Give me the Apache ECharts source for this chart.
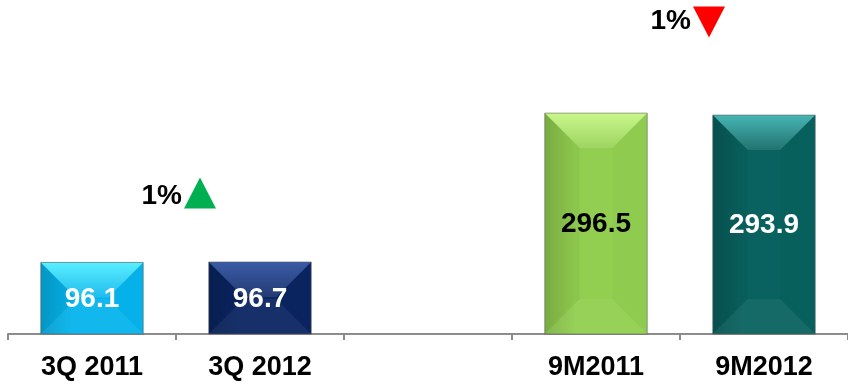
<!DOCTYPE html>
<html>
<head>
<meta charset="utf-8">
<script src="https://cdn.jsdelivr.net/npm/echarts@6/dist/echarts.min.js"></script>
<style>
  html, body { margin: 0; padding: 0; background: #ffffff; }
  #chart { width: 848px; height: 384px; }
</style>
</head>
<body>
<div id="chart"></div>
<script>
// Period labels along the x axis (blank slot separates the quarter and nine-month pairs)
const categories = ['3Q 2011', '3Q 2012', '', '9M2011', '9M2012'];
// Values per period
const values = [96.1, 96.7, null, 296.5, 293.9];
// Year-on-year change for each pair of periods
const changePairs = [[0, 1], [3, 4]];
const changeTexts = ['1%', '1%'];
const changeDirections = ['up', 'down'];

// Per-bar palette: body, top facet, label colour
const barColors = ['#06b4ec', '#0b2562', null, '#92cf50', '#09625f'];
const topColors = ['#5aeeff', '#3a5ba6', null, '#c9f78a', '#46b5b3'];
const labelColors = ['#ffffff', '#ffffff', null, '#000000', '#ffffff'];

const FONT = '"Liberation Sans", Arial, Helvetica, sans-serif';

function shade(hex, amt) {
  const n = parseInt(hex.slice(1), 16);
  const r = (n >> 16) & 255, g = (n >> 8) & 255, b = n & 255;
  const f = c => Math.max(0, Math.min(255, Math.round(amt < 0 ? c * (1 + amt) : c + (255 - c) * amt)));
  return 'rgb(' + f(r) + ',' + f(g) + ',' + f(b) + ')';
}

// Bevelled bar drawn from the data value through the axis scales
function renderBar(params, api) {
  const idx = api.value(0);
  const v = api.value(1);
  if (v == null || isNaN(v)) return null;
  const top = api.coord([idx, v]);
  const base = api.coord([idx, 0]);
  const bw = api.size([1, 0])[0] * 0.61;
  const x0 = top[0] - bw / 2, x1 = top[0] + bw / 2;
  const y0 = top[1], y1 = base[1];
  const h = y1 - y0;
  const b = Math.min(35, h / 2, bw / 2);
  const col = barColors[idx];
  const topCol = topColors[idx];
  return {
    type: 'group',
    children: [
      {
        type: 'rect',
        shape: { x: x0, y: y0, width: bw, height: h },
        style: {
          fill: {
            type: 'linear', x: 0, y: 0, x2: 1, y2: 0,
            colorStops: [
              { offset: 0, color: shade(col, -0.14) },
              { offset: 0.3, color: col },
              { offset: 1, color: col }
            ]
          }
        }
      },
      {
        // top facet
        type: 'polygon',
        shape: { points: [[x0, y0], [x1, y0], [x1 - b, y0 + b], [x0 + b, y0 + b]] },
        style: {
          fill: {
            type: 'linear', x: 0, y: 0, x2: 0, y2: 1,
            colorStops: [
              { offset: 0, color: topCol },
              { offset: 1, color: shade(col, 0.1) }
            ]
          }
        }
      },
      {
        // left facet
        type: 'polygon',
        shape: { points: [[x0, y0], [x0 + b, y0 + b], [x0 + b, y1 - b], [x0, y1]] },
        style: { fill: 'rgba(0,0,0,0.035)' }
      },
      {
        // right facet
        type: 'polygon',
        shape: { points: [[x1, y0], [x1 - b, y0 + b], [x1 - b, y1 - b], [x1, y1]] },
        style: { fill: 'rgba(0,0,0,0.015)' }
      },
      {
        // bottom facet
        type: 'polygon',
        shape: { points: [[x0, y1], [x1, y1], [x1 - b, y1 - b], [x0 + b, y1 - b]] },
        style: { fill: 'rgba(255,255,255,0.05)' }
      },
      {
        type: 'rect',
        shape: { x: x0, y: y0, width: bw, height: h },
        style: { fill: 'none', stroke: 'rgba(90,90,90,0.55)', lineWidth: 1 }
      },
      {
        type: 'text',
        style: {
          text: String(v),
          x: top[0], y: (y0 + y1) / 2 + 1,
          align: 'center', verticalAlign: 'middle',
          fill: labelColors[idx],
          font: 'bold 28px ' + FONT
        }
      }
    ]
  };
}

const chart = echarts.init(document.getElementById('chart'), null, { renderer: 'canvas' });

chart.setOption({
  backgroundColor: '#ffffff',
  animation: false,
  grid: { left: 8, right: -4, top: 36, bottom: 50, containLabel: false },
  xAxis: {
    type: 'category',
    data: categories,
    boundaryGap: true,
    axisLine: { lineStyle: { color: '#8c8c8c', width: 2 } },
    axisTick: { show: true, length: 6, lineStyle: { color: '#8c8c8c', width: 2 } },
    axisLabel: {
      interval: 0, margin: 20, color: '#000000',
      fontFamily: FONT, fontWeight: 'bold', fontSize: 27
    }
  },
  yAxis: {
    type: 'value', min: 0, max: 400,
    show: false, splitLine: { show: false }
  },
  series: [{
    type: 'custom',
    renderItem: renderBar,
    data: values.map((v, i) => [i, v]),
    encode: { x: 0, y: 1 },
    z: 2
  }]
});

// Change indicators placed over the boundary between each pair
const indicatorLift = [69, 91];
const indicatorShift = [7, 12];
const graphics = changePairs.map((pair, k) => {
  const a = chart.convertToPixel({ xAxisIndex: 0, yAxisIndex: 0 }, [pair[0], 0]);
  const c = chart.convertToPixel({ xAxisIndex: 0, yAxisIndex: 0 }, [pair[1], 0]);
  const peak = Math.max(values[pair[0]], values[pair[1]]);
  const pTop = chart.convertToPixel({ xAxisIndex: 0, yAxisIndex: 0 }, [pair[0], peak]);
  const cx = (a[0] + c[0]) / 2 + indicatorShift[k];
  const cy = pTop[1] - indicatorLift[k];
  const up = changeDirections[k] === 'up';
  const tx0 = cx + 1, tw = 32, th = 31;
  const tri = up
    ? [[tx0, cy + th / 2], [tx0 + tw, cy + th / 2], [tx0 + tw / 2, cy - th / 2]]
    : [[tx0, cy - th / 2], [tx0 + tw, cy - th / 2], [tx0 + tw / 2, cy + th / 2]];
  return {
    type: 'group',
    children: [
      {
        type: 'text',
        style: {
          text: changeTexts[k], x: cx - 1, y: up ? cy + 3 : cy - 1,
          align: 'right', verticalAlign: 'middle',
          fill: '#000000', font: 'bold 28px ' + FONT
        }
      },
      {
        type: 'polygon',
        shape: { points: tri },
        style: { fill: up ? '#00b050' : '#ff0000' }
      }
    ]
  };
});
chart.setOption({ graphic: graphics });
</script>
</body>
</html>
